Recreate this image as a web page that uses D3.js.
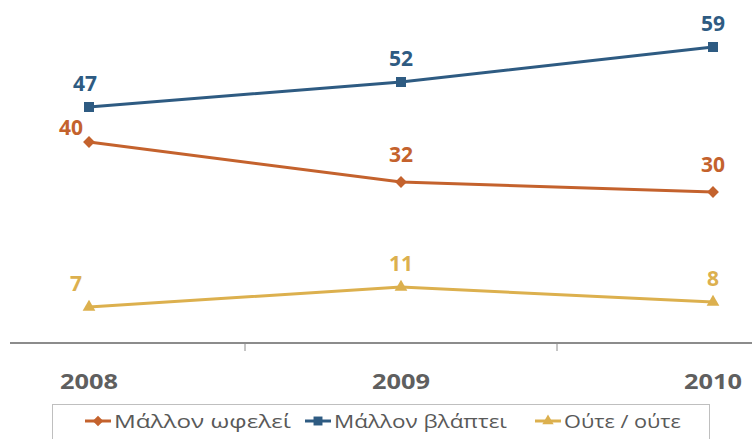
<!DOCTYPE html>
<html><head><meta charset="utf-8">
<script src="https://cdn.jsdelivr.net/npm/d3@7"></script>
<style>body{margin:0;background:#fff}svg{display:block}</style>
</head><body>
<svg id="c" width="752" height="439"></svg>
<script>
const years = ["2008", "2009", "2010"];
const seriesNames = ["Μάλλον ωφελεί", "Μάλλον βλάπτει", "Ούτε / ούτε"];
const wfelei = [40, 32, 30];
const vlaptei = [47, 52, 59];
const oute = [7, 11, 8];
const colors = ["#c4622d", "#2e5b82", "#dcb04e"];

const series = [
  {name: seriesNames[0], values: wfelei, color: colors[0], marker: d3.symbolSquare, size: 70, rot: 45},
  {name: seriesNames[1], values: vlaptei, color: colors[1], marker: d3.symbolSquare, size: 100, rot: 0},
  {name: seriesNames[2], values: oute, color: colors[2], marker: d3.symbolTriangle, size: 70, rot: 0}
];

const svg = d3.select("#c");
const x = d3.scaleBand().domain(years).range([-67, 869]);
const y = d3.scaleLinear().domain([0, 60]).range([342, 42]);
const cx = d => x(d) + x.bandwidth() / 2;

// axis
svg.append("line").attr("x1", 10).attr("x2", 752).attr("y1", 343).attr("y2", 343)
  .attr("stroke", "#8c8c8c").attr("stroke-width", 2);
years.slice(1).forEach(yr => {
  svg.append("line").attr("x1", x(yr)).attr("x2", x(yr)).attr("y1", 343).attr("y2", 351)
    .attr("stroke", "#8c8c8c").attr("stroke-width", 1);
});
svg.selectAll("text.yr").data(years).enter().append("text")
  .attr("x", d => cx(d)).attr("y", 389).attr("text-anchor", "middle")
  .attr("font-family", "Open Sans, sans-serif").attr("font-weight", "bold")
  .attr("font-size", 22).attr("fill", "#5f5f5f").attr("textLength", 58)
  .attr("lengthAdjust", "spacingAndGlyphs").text(d => d);

const line = d3.line().x((d, i) => cx(years[i])).y(d => y(d));
series.forEach((s, si) => {
  svg.append("path").attr("d", line(s.values)).attr("fill", "none")
    .attr("stroke", s.color).attr("stroke-width", 3);
  s.values.forEach((v, i) => {
    svg.append("path").attr("d", d3.symbol().type(s.marker).size(s.size)())
      .attr("transform", `translate(${cx(years[i])},${y(v)}) rotate(${s.rot})`).attr("fill", s.color);
    let dx = 0, dy = -16;
    if (si === 0) { dy = i === 0 ? -7 : -20; if (i === 0) dx = -18; }
    if (si === 1 && i === 0) dx = -4;
    if (si === 2 && i === 0) dx = -13;
    svg.append("text").attr("x", cx(years[i]) + dx).attr("y", y(v) + dy)
      .attr("text-anchor", "middle").attr("font-family", "Open Sans, sans-serif")
      .attr("font-weight", "bold").attr("font-size", 21).attr("fill", s.color)
      .text(v);
  });
});

// legend
svg.append("rect").attr("x", 52.5).attr("y", 404.5).attr("width", 657).attr("height", 40)
  .attr("fill", "#fff").attr("stroke", "#bfbfbf").attr("stroke-width", 1);
const legX = [85, 305, 535];
const legW = [177, 173, 117];
series.forEach((s, i) => {
  const g = svg.append("g").attr("transform", `translate(${legX[i]},421)`);
  g.append("line").attr("x1", 0).attr("x2", 26).attr("stroke", s.color).attr("stroke-width", 3);
  g.append("path").attr("d", d3.symbol().type(s.marker).size(s.size * 0.8)())
    .attr("transform", `translate(13,0) rotate(${s.rot})`).attr("fill", s.color);
  g.append("text").attr("x", 29).attr("y", 7).attr("font-family", "Open Sans, sans-serif")
    .attr("font-size", 19).attr("fill", "#595959").attr("textLength", legW[i])
    .attr("lengthAdjust", "spacingAndGlyphs").text(s.name);
});
</script>
</body></html>
